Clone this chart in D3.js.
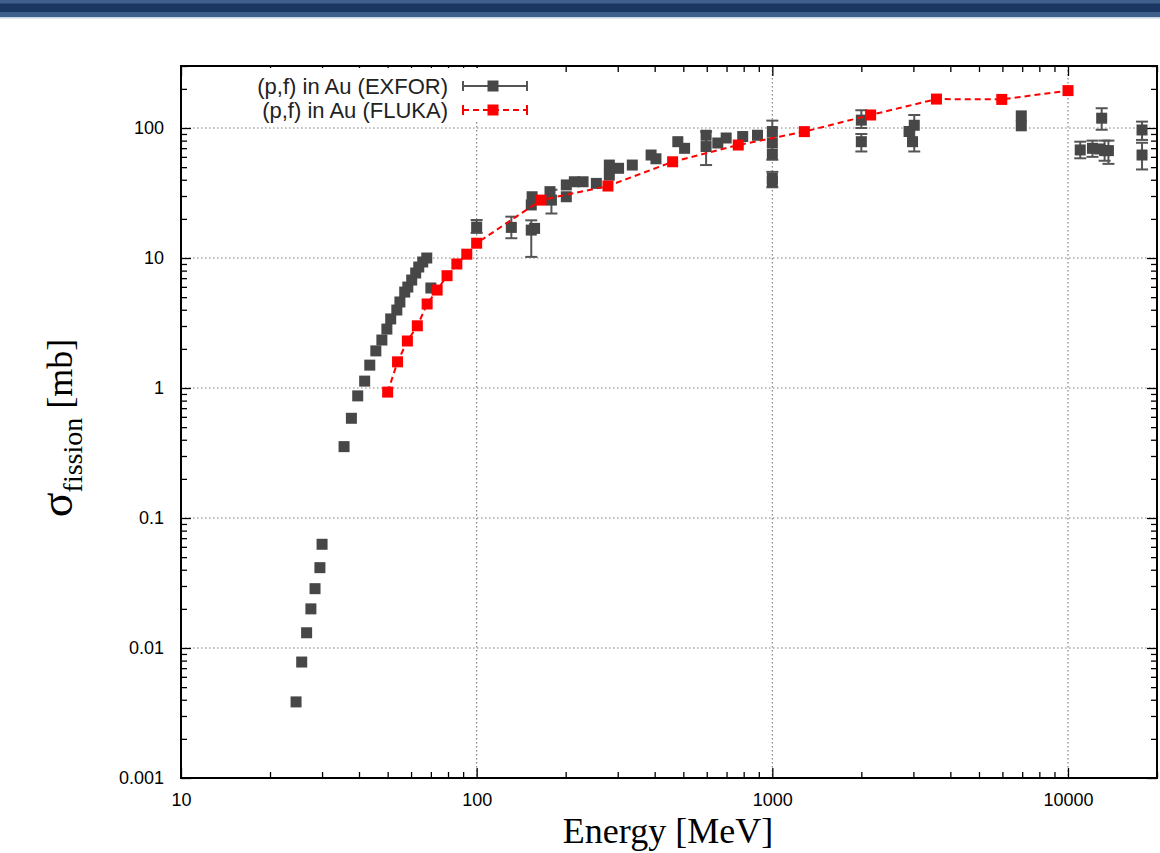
<!DOCTYPE html>
<html>
<head>
<meta charset="utf-8">
<script src="https://cdn.jsdelivr.net/npm/d3@7"></script>
<style>
body { margin: 0; background: #fff; }
svg { display: block; }
</style>
</head>
<body>
<svg id="chart" width="1160" height="853"></svg>
<script>
// (p,f) in Au, EXFOR measurements: energy [MeV], sigma [mb], error low / high (null = no bar)
var exforE = [24.5, 25.6, 26.6, 27.5, 28.4, 29.5, 30.0,
    35.6, 37.7, 39.6, 41.8, 43.5, 45.6, 47.8, 49.7, 51.2, 53.7, 55.0, 57.1, 58.5,
    60.3, 62.2, 63.7, 65.7, 67.8, 70.0,
    100, 131, 153, 157, 153, 154, 177, 179, 201, 201, 214, 229, 254,
    281, 302, 281, 336, 389, 404, 479, 505, 597, 597, 654, 698, 794, 891,
    1000, 1000, 1000, 1000, 1000,
    2000, 2000, 2900, 3020, 2980, 6950, 6950,
    11000, 12100, 13000, 12800, 13300, 13700, 17800, 17800];
var exforS = [0.00385, 0.0078, 0.0131, 0.020, 0.0286, 0.0415, 0.0628,
    0.354, 0.585, 0.87, 1.13, 1.50, 1.93, 2.34, 2.84, 3.40, 3.98, 4.59, 5.47, 5.98,
    6.77, 7.67, 8.53, 9.32, 10.0, 5.88,
    17.3, 17.2, 16.4, 16.9, 25.6, 29.6, 32.4, 27.9, 36.5, 29.6, 38.6, 38.6, 37.5,
    51.9, 49.0, 43.4, 51.9, 62.0, 58.0, 78.5, 69.8, 88.0, 72.0, 76.7, 83.8, 86.0, 88.0,
    94.0, 77.0, 63.0, 41.0, 38.6,
    115, 78.5, 94, 105, 78.5, 124, 104,
    67.8, 69.8, 119, 69, 67, 67, 96.6, 62];
var exforLo = [null, null, null, null, null, null, null,
    null, null, null, null, null, null, null, null, null, null, null, null, null,
    null, null, null, null, null, null,
    15.6, 14.2, 10.2, null, null, null, null, 22.0, null, null, null, null, null,
    null, null, null, null, null, null, null, null, null, 51.9, null, null, null, null,
    null, 57.0, null, 35.0, null,
    100, 66, null, 66, null, null, null,
    58.5, 60, 97, null, 56, 53, 81, 48];
var exforHi = [null, null, null, null, null, null, null,
    null, null, null, null, null, null, null, null, null, null, null, null, null,
    null, null, null, null, null, null,
    19.6, 20.8, 19.5, null, null, null, null, 33.5, null, null, null, null, null,
    null, null, null, null, null, null, null, null, null, 93.8, null, null, null, null,
    null, 114, null, 46.0, null,
    137, 90, null, 126, null, null, null,
    78.5, 80, 142, null, 80, 80, 112, 77];

// (p,f) in Au, FLUKA calculation
var flukaE = [50, 54, 58.3, 63, 68, 73.5, 79.4, 85.7, 92.6, 100,
    165, 278, 460, 767, 1283, 2150, 3590, 5970, 10000];
var flukaS = [0.93, 1.59, 2.30, 3.01, 4.43, 5.67, 7.31, 9.0, 10.7, 13.0,
    27.9, 35.8, 55, 74, 93.8, 126, 167, 166, 194];

var xTicks = [10, 100, 1000, 10000];
var xTickLabels = ["10", "100", "1000", "10000"];
var yTicks = [0.001, 0.01, 0.1, 1, 10, 100];
var yTickLabels = ["0.001", "0.01", "0.1", "1", "10", "100"];
var legendLabels = ["(p,f) in Au (EXFOR)", "(p,f) in Au (FLUKA)"];

var width = 1160, height = 853;
var plot = { left: 181, right: 1157, top: 66, bottom: 778 };
var grey = "#474747", red = "#ff0000";
var sansFont = "'Liberation Sans', Arial, Helvetica, sans-serif";
var serifFont = "'Liberation Serif', 'Times New Roman', serif";

var svg = d3.select("#chart");

// header band
var band = svg.append("g").attr("class", "header");
band.append("rect").attr("x", 0).attr("y", 0).attr("width", width).attr("height", 17).attr("fill", "#3f5f8d");
band.append("rect").attr("x", 0).attr("y", 3.5).attr("width", width).attr("height", 8.5).attr("fill", "#1b3761");
band.append("rect").attr("x", 0).attr("y", 17).attr("width", width).attr("height", 1.5).attr("fill", "#c9d5e2");

var x = d3.scaleLog().domain([10, 20000]).range([plot.left, plot.right]);
var y = d3.scaleLog().domain([0.001, 300]).range([plot.bottom, plot.top]);

var xMinor = x.ticks().filter(function(d) { return xTicks.indexOf(d) < 0; });
var yMinor = y.ticks().filter(function(d) { return yTicks.indexOf(d) < 0; });

// grid
var grid = svg.append("g").attr("class", "grid")
    .attr("stroke", "#808080")
    .attr("stroke-width", 1.2)
    .attr("stroke-dasharray", "1.5,2.5");

grid.selectAll(".gx")
    .data(xTicks.filter(function(d) { return d > 10; }))
    .enter().append("line")
    .attr("x1", function(d) { return x(d); })
    .attr("x2", function(d) { return x(d); })
    .attr("y1", plot.top)
    .attr("y2", plot.bottom);

grid.selectAll(".gy")
    .data(yTicks.filter(function(d) { return d > 0.001; }))
    .enter().append("line")
    .attr("y1", function(d) { return y(d); })
    .attr("y2", function(d) { return y(d); })
    .attr("x1", plot.left)
    .attr("x2", plot.right);

// axes, ticks pointing inward
function styleAxis(g) {
    g.select(".domain").remove();
    g.selectAll(".tick line").attr("stroke", "#000").attr("stroke-width", 1.3);
    g.selectAll("text")
        .attr("font-family", sansFont)
        .attr("font-size", 18)
        .attr("fill", "#000");
}

var labelX = d3.scaleOrdinal().domain(xTicks).range(xTickLabels);
var labelY = d3.scaleOrdinal().domain(yTicks).range(yTickLabels);

svg.append("g")
    .attr("transform", "translate(0," + plot.bottom + ")")
    .call(d3.axisBottom(x).tickValues(xTicks).tickSize(-10).tickPadding(15)
        .tickFormat(function(d) { return labelX(d); }))
    .call(styleAxis);
svg.append("g")
    .attr("transform", "translate(0," + plot.bottom + ")")
    .call(d3.axisBottom(x).tickValues(xMinor).tickSize(-6).tickFormat(""))
    .call(styleAxis);
svg.append("g")
    .attr("transform", "translate(0," + plot.top + ")")
    .call(d3.axisTop(x).tickValues(xTicks).tickSize(-10).tickFormat(""))
    .call(styleAxis);
svg.append("g")
    .attr("transform", "translate(0," + plot.top + ")")
    .call(d3.axisTop(x).tickValues(xMinor).tickSize(-6).tickFormat(""))
    .call(styleAxis);

svg.append("g")
    .attr("transform", "translate(" + plot.left + ",0)")
    .call(d3.axisLeft(y).tickValues(yTicks).tickSize(-10).tickPadding(17)
        .tickFormat(function(d) { return labelY(d); }))
    .call(styleAxis);
svg.append("g")
    .attr("transform", "translate(" + plot.left + ",0)")
    .call(d3.axisLeft(y).tickValues(yMinor).tickSize(-6).tickFormat(""))
    .call(styleAxis);
svg.append("g")
    .attr("transform", "translate(" + plot.right + ",0)")
    .call(d3.axisRight(y).tickValues(yTicks).tickSize(-10).tickFormat(""))
    .call(styleAxis);
svg.append("g")
    .attr("transform", "translate(" + plot.right + ",0)")
    .call(d3.axisRight(y).tickValues(yMinor).tickSize(-6).tickFormat(""))
    .call(styleAxis);

// legend box (opaque, hides grid behind it)
svg.append("rect")
    .attr("x", 240).attr("y", 68)
    .attr("width", 296).attr("height", 53)
    .attr("fill", "#fff");

// EXFOR data
var exfor = exforE.map(function(e, i) {
    return { e: e, s: exforS[i], lo: exforLo[i], hi: exforHi[i] };
});

var bars = svg.append("g").attr("class", "errorbars")
    .attr("stroke", "#555").attr("stroke-width", 2);

var withErr = exfor.filter(function(d) { return d.lo !== null; });
bars.selectAll(".bar").data(withErr).enter().append("line")
    .attr("x1", function(d) { return x(d.e); })
    .attr("x2", function(d) { return x(d.e); })
    .attr("y1", function(d) { return y(d.lo); })
    .attr("y2", function(d) { return y(d.hi); });
bars.selectAll(".capLo").data(withErr).enter().append("line")
    .attr("x1", function(d) { return x(d.e) - 6; })
    .attr("x2", function(d) { return x(d.e) + 6; })
    .attr("y1", function(d) { return y(d.lo); })
    .attr("y2", function(d) { return y(d.lo); });
bars.selectAll(".capHi").data(withErr).enter().append("line")
    .attr("x1", function(d) { return x(d.e) - 6; })
    .attr("x2", function(d) { return x(d.e) + 6; })
    .attr("y1", function(d) { return y(d.hi); })
    .attr("y2", function(d) { return y(d.hi); });

var ms = 11;
svg.append("g").attr("class", "exfor")
    .selectAll("rect")
    .data(exfor)
    .enter().append("rect")
    .attr("x", function(d) { return x(d.e) - ms / 2; })
    .attr("y", function(d) { return y(d.s) - ms / 2; })
    .attr("width", ms)
    .attr("height", ms)
    .attr("fill", grey);

// FLUKA line + markers
var fluka = flukaE.map(function(e, i) { return { e: e, s: flukaS[i] }; });
var line = d3.line()
    .x(function(d) { return x(d.e); })
    .y(function(d) { return y(d.s); });

svg.append("path")
    .datum(fluka)
    .attr("d", line)
    .attr("fill", "none")
    .attr("stroke", red)
    .attr("stroke-width", 2)
    .attr("stroke-dasharray", "6,4");

svg.append("g").attr("class", "fluka")
    .selectAll("rect")
    .data(fluka)
    .enter().append("rect")
    .attr("x", function(d) { return x(d.e) - ms / 2; })
    .attr("y", function(d) { return y(d.s) - ms / 2; })
    .attr("width", ms)
    .attr("height", ms)
    .attr("fill", red);

// frame
svg.append("rect")
    .attr("x", plot.left).attr("y", plot.top)
    .attr("width", plot.right - plot.left)
    .attr("height", plot.bottom - plot.top)
    .attr("fill", "none")
    .attr("stroke", "#000")
    .attr("stroke-width", 2);

// legend
var legend = svg.append("g").attr("class", "legend");
var legendY = [86, 110];
var legendColor = [grey, red];

legend.selectAll("text")
    .data(legendLabels)
    .enter().append("text")
    .attr("x", 448)
    .attr("y", function(d, i) { return legendY[i]; })
    .attr("dy", "0.36em")
    .attr("text-anchor", "end")
    .attr("font-family", sansFont)
    .attr("font-size", 22)
    .attr("fill", "#222")
    .text(function(d) { return d; });

legendLabels.forEach(function(d, i) {
    var g = legend.append("g").attr("stroke", i === 0 ? "#555" : red).attr("stroke-width", 2);
    g.append("line").attr("x1", 463).attr("x2", 527).attr("y1", legendY[i]).attr("y2", legendY[i])
        .attr("stroke-dasharray", i === 0 ? null : "6,4");
    g.append("line").attr("x1", 463).attr("x2", 463).attr("y1", legendY[i] - 5).attr("y2", legendY[i] + 5);
    g.append("line").attr("x1", 527).attr("x2", 527).attr("y1", legendY[i] - 5).attr("y2", legendY[i] + 5);
    legend.append("rect")
        .attr("x", 493 - ms / 2).attr("y", legendY[i] - ms / 2)
        .attr("width", ms).attr("height", ms)
        .attr("fill", legendColor[i]);
});

// axis titles
svg.append("text")
    .attr("x", 668)
    .attr("y", 843)
    .attr("text-anchor", "middle")
    .attr("font-family", serifFont)
    .attr("font-size", 36)
    .attr("fill", "#000")
    .text("Energy [MeV]");

var yTitle = svg.append("text")
    .attr("transform", "translate(72,428) rotate(-90)")
    .attr("text-anchor", "middle")
    .attr("font-family", serifFont)
    .attr("fill", "#000");
yTitle.append("tspan").attr("font-size", 46).text("σ");
yTitle.append("tspan").attr("font-size", 28).attr("dy", 10).text("fission");
yTitle.append("tspan").attr("font-size", 36).attr("dy", -10).text(" [mb]");
</script>
</body>
</html>
